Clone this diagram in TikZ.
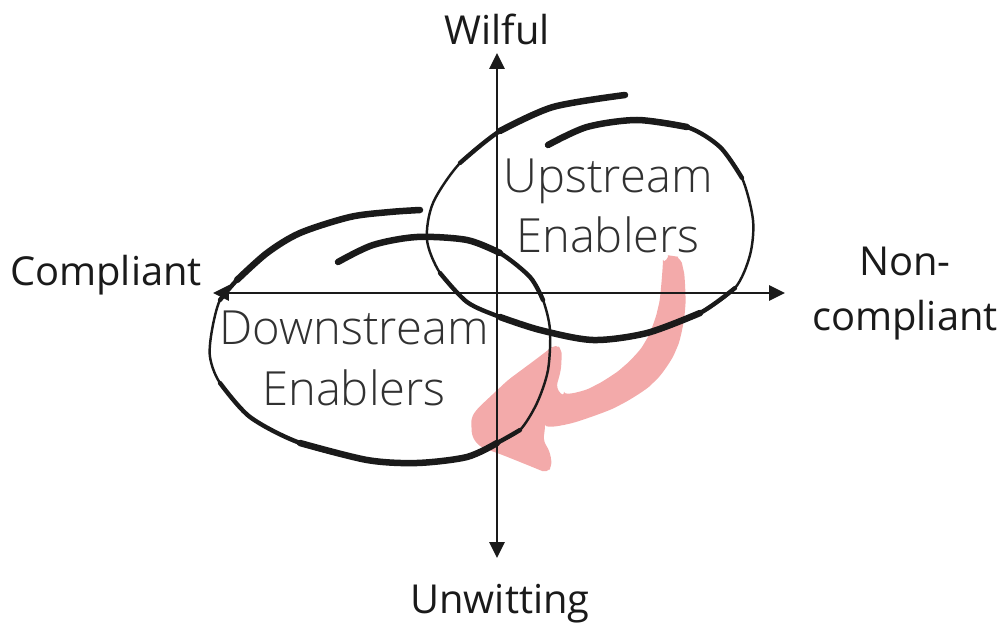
\documentclass[tikz,border=0pt]{standalone}
\usepackage{fontspec}
\setmainfont{Open Sans}
\newfontfamily\lightfont{Open Sans Light}
\usetikzlibrary{arrows.meta}
\definecolor{InkBlack}{HTML}{1A1A1A}
\definecolor{FlowPink}{HTML}{F3AAAA}

\begin{document}
\begin{tikzpicture}[x=0.02cm,y=-0.02cm,
  axislabel/.style={font=\fontsize{22.7}{31}\selectfont,text=InkBlack,align=center,inner sep=0pt,anchor=base},
  looplabel/.style={font=\lightfont\fontsize{26.8}{34.5}\selectfont,text=InkBlack!90,align=center,inner sep=0pt,anchor=base},
  axisline/.style={{Triangle[length=9pt,width=8.5pt]}-{Triangle[length=9pt,width=8.5pt]},line width=1.6pt,InkBlack},
  pen/.style={line width=1.4pt,InkBlack,line join=round},
  brush/.style={line width=2.5pt,InkBlack,line cap=round},
  heavy/.style={line width=3.7pt,InkBlack,line cap=round}
]
\useasboundingbox (0,0) rectangle (1004,628);

\coordinate (ytop) at (497,53);
\coordinate (ybot) at (497,558);
\coordinate (xleft) at (213,293);
\coordinate (xright) at (785,293);

% sweep from upstream down into the downstream loop
\fill[FlowPink,rounded corners=3pt] plot[smooth] coordinates {(663,265) (673,256) (683,268) (685,310) (676,350) (654,382) (620,405) (582,420) (545,430)}
  -- (543,440) -- (550,452) -- (552,466) -- (547,473) -- (525,464) -- (500,454) -- (480,447) -- (472,437)
  -- (471,418) -- (477,409) -- (508,380) -- (535,360) -- (556,344) -- (562,350) -- (561,370) -- (556,388)
  -- plot[smooth] coordinates {(564,397) (594,386) (623,367) (645,342) (658,308) (663,265)} -- cycle;

\draw[axisline] (xleft) -- (xright);
\draw[axisline] (ytop) -- (ybot);

% upstream loop
\draw[pen] plot[smooth] coordinates {(548,145) (587,127) (637,120) (687,127) (720,147) (742,178) (753,220) (750,255) (735,288) (700,313) (647,333) (593,340) (540,330) (500,317) (467,302) (440,273) (427,240) (433,203) (460,163) (500,131) (553,107) (625,95)};
\draw[brush] plot[smooth] coordinates {(548,145) (587,127) (637,120) (687,127) (720,147) (742,178)};
\draw[brush] plot[smooth] coordinates {(735,288) (700,313) (647,333) (593,340) (540,330) (500,317) (467,302) (440,273)};
\draw[brush] plot[smooth] coordinates {(460,163) (500,131) (553,107) (625,95)};
\draw[heavy] plot[smooth] coordinates {(548,145) (587,127) (637,120) (687,127)};
\draw[heavy] plot[smooth] coordinates {(700,313) (647,333) (593,340) (540,330) (500,317)};
\draw[heavy] plot[smooth] coordinates {(500,131) (553,107) (625,95)};

% downstream loop
\draw[pen] plot[smooth] coordinates {(338,262) (373,245) (417,237) (467,240) (500,253) (530,277) (543,300) (550,330) (548,370) (537,403) (520,430) (497,443) (467,457) (417,463) (367,460) (300,443) (250,417) (220,383) (210,357) (212,330) (220,300) (237,280) (267,253) (300,233) (350,217) (390,212) (420,210)};
\draw[brush] plot[smooth] coordinates {(338,262) (373,245) (417,237) (467,240) (500,253) (530,277) (543,300)};
\draw[brush] plot[smooth] coordinates {(520,430) (497,443) (467,457) (417,463) (367,460) (300,443) (250,417) (220,383)};
\draw[brush] plot[smooth] coordinates {(220,300) (237,280) (267,253) (300,233) (350,217) (390,212) (420,210)};
\draw[heavy] plot[smooth] coordinates {(338,262) (373,245) (417,237) (467,240) (500,253)};
\draw[heavy] plot[smooth] coordinates {(497,443) (467,457) (417,463) (367,460) (300,443)};
\draw[heavy] plot[smooth] coordinates {(237,280) (267,253) (300,233) (350,217) (390,212) (420,210)};

\node[axislabel] (wilful) at (497,45) {Wilful};
\node[axislabel] (unwitting) at (500,613) {Unwitting};
\node[axislabel] (compliant) at (106,285) {Compliant};
\node[axislabel] (noncompliant) at (905,330) {Non-\\compliant};
\node[looplabel] (upstream) at (608,253) {Upstream\\Enablers};
\node[looplabel] (downstream) at (354,405) {Downstream\\Enablers};
\end{tikzpicture}
\end{document}
